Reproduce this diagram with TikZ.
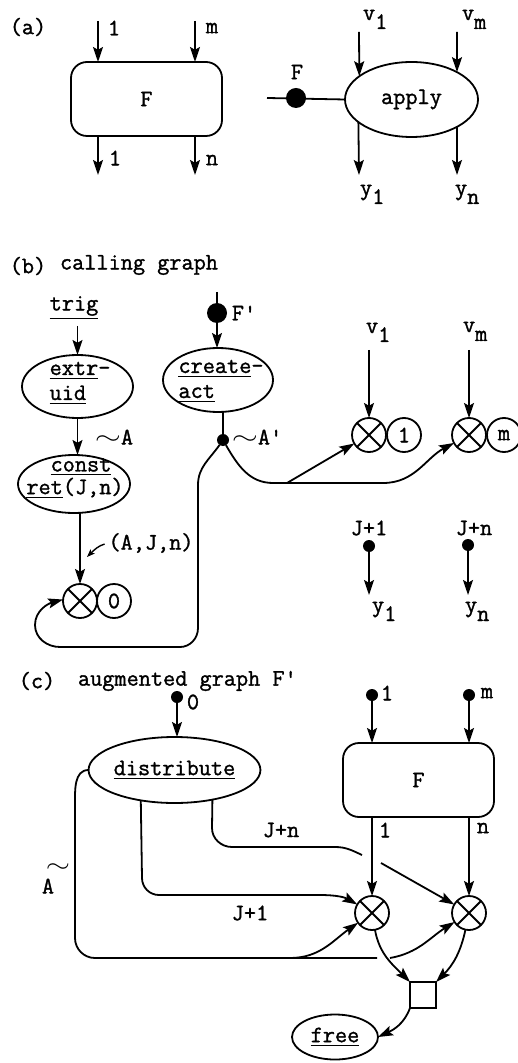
\documentclass[tikz,border=0pt]{standalone}
\usepackage{graphicx}
\usepackage{fontspec}
\setmainfont{Latin Modern Mono}[FakeBold=1.3]
\usetikzlibrary{arrows.meta,shapes.geometric}
\newcommand\lowsub[1]{\raisebox{-4.5pt}{#1}}
\newcommand\xcross[1]{\draw[ln] (#1.45) -- (#1.225) (#1.135) -- (#1.315);}
\tikzset{
  every node/.style={inner sep=0pt, outer sep=0pt, font=\fontsize{11.8}{12.5}\selectfont},
  ln/.style={line width=0.9pt},
  arr/.style={ln,-{Stealth[length=7.5pt,width=5pt,inset=1.4pt]}},
  arrs/.style={line width=0.7pt,-{Stealth[length=4pt,width=3pt,inset=1pt]}},
  ell/.style={ellipse, draw, line width=0.9pt},
  rbox/.style={rectangle, rounded corners=8pt, draw, line width=0.9pt},
  xc/.style={circle, draw, line width=0.9pt, minimum size=17pt},
  bigdot/.style={circle, fill, minimum size=10pt},
  smalldot/.style={circle, fill, minimum size=6pt},
}
\begin{document}
\begin{tikzpicture}[x=0.5pt,y=-0.5pt]
\useasboundingbox (0,0) rectangle (518,1063);
% ---------------- (a)
\node (la) at (28,27) {(a)};
\node[rbox, minimum width=75.5pt, minimum height=37pt] (Fa) at (146.5,99) {F};
\coordinate (ain1) at (98,21); \coordinate (ainm) at (195,21);
\coordinate (aout1) at (98,175); \coordinate (aoutn) at (195,175);
\draw[arr] (ain1) -- (ain1 |- Fa.north);
\draw[arr] (ainm) -- (ainm |- Fa.north);
\draw[arr] (aout1 |- Fa.south) -- (aout1);
\draw[arr] (aoutn |- Fa.south) -- (aoutn);
\node (la1) at (114,28) {1};
\node (lam) at (212,28) {m};
\node (la1o) at (115,158) {1};
\node (lano) at (212,160) {n};
\node[ell, minimum width=66.5pt, minimum height=37.5pt] (ap) at (411.5,99.5) {apply};
\node[bigdot] (dF) at (296,98) {};
\coordinate (Fl) at (267,98);
\draw[ln] (Fl) -- (ap.west);
\node (lF) at (297,72) {F};
\coordinate (v1s) at (359,32); \coordinate (vms) at (457,32);
\coordinate (y1e) at (359,175); \coordinate (yne) at (457,175);
\draw[arr] (v1s) -- (ap.156.3);
\draw[arr] (vms) -- (ap.31);
\draw[arr] (ap.203.7) -- (y1e);
\draw[arr] (ap.329) -- (yne);
\node[anchor=base west] (lv1) at (363,20) {v\lowsub{1}};
\node[anchor=base west] (lvm) at (462,20) {v\lowsub{m}};
\node[anchor=base west] (ly1) at (360,195) {y\lowsub{1}};
\node[anchor=base west] (lyn) at (455,195) {y\lowsub{n}};
% ---------------- (b)
\node (lb) at (28,266) {(b)};
\node[anchor=west] (lcg) at (60,265) {calling graph};
\node (trig) at (74,308) {\underline{trig}};
\node[ell, minimum width=55.5pt, minimum height=31.5pt] (eu) at (77.5,386.5) {};
\node[align=left] (eut) at (80,383) {\underline{extr}-\\\underline{uid}};
\draw[arr, shorten <=3pt] (eu.north |- trig.south) -- (eu.north);
\node (tA) at (114,437) {\scalebox{1.4}[1]{$\sim$}A};
\node[ell, minimum width=56pt, minimum height=29pt] (cr) at (74,484) {};
\node (crt1) at (81,467) {\underline{const}};
\node (crt2) at (75,488) {\underline{ret}(J,n)};
\draw[arr] (eu.south) -- (eu.south |- cr.north);
\node[xc] (x0) at (80,601) {}; \xcross{x0}
\node[xc] (c0) at (114,601) {0};
\draw[arr] (x0 |- cr.south) -- (x0.north);
\node (ajn) at (151,543) {(A,J,n)};
\coordinate (ajt) at (87,557);
\draw[arrs, shorten <=2pt] (ajn.west) to[out=195,in=45] (ajt);
\node[bigdot] (dFp) at (217,313) {};
\coordinate (Fps) at (217,292);
\node[ell, minimum width=55pt, minimum height=32pt] (ca) at (218,380) {};
\node[align=left] (cat) at (221,381) {\underline{create}-\\\underline{act}};
\draw[ln] (Fps) -- (dFp);
\draw[arr] (dFp) -- (dFp |- ca.north);
\node (lFp) at (244,313) {F\textquotesingle};
\node[smalldot] (dA) at (223,440) {};
\draw[ln] (dA |- ca.south) -- (dA);
\node (tA2) at (257,437) {\scalebox{1.4}[1]{$\sim$}A\textquotesingle};
\draw[arr] (dA) to[out=235,in=90] (198,485) -- (198,628) to[out=270,in=0] (180,647) -- (60,647) to[out=180,in=270] (35,625) to[out=90,in=195] (x0.175);
\node[xc] (x1) at (369,435) {}; \xcross{x1}
\node[xc] (c1) at (404,435) {1};
\node[xc] (xm) at (469,435) {}; \xcross{xm}
\node[xc] (cm) at (504,435) {m};
\draw[arr] (dA) to[out=300,in=180] (273,483) -- (383,483) to[out=0,in=208] (xm.208);
\coordinate (br1) at (287,483);
\draw[arr] (br1) -- (x1.210);
\coordinate (v1b) at (369,350); \coordinate (vmb) at (469,350);
\draw[arr] (v1b) -- (x1.north);
\draw[arr] (vmb) -- (xm.north);
\node[anchor=base west] (lv1b) at (366,333) {v\lowsub{1}};
\node[anchor=base west] (lvmb) at (463,332) {v\lowsub{m}};
\node (lj1) at (369,528) {J+1};
\node[smalldot] (dj1) at (369,546) {};
\coordinate (y1b) at (369,595);
\draw[arr] (dj1) -- (y1b);
\node[anchor=base west] (ly1b) at (372,612) {y\lowsub{1}};
\node (ljn) at (474,528) {J+n};
\node[smalldot] (djn) at (468,545) {};
\coordinate (ynb) at (468,595);
\draw[arr] (djn) -- (ynb);
\node[anchor=base west] (lynb) at (465,612) {y\lowsub{n}};
% ---------------- (c)
\node (lc) at (37,681) {(c)};
\node[anchor=west] (lag) at (78,681) {augmented graph F\textquotesingle};
\node[smalldot] (d0) at (177,697) {};
\node (l0) at (193,702) {0};
\node[ell, minimum width=75.5pt, minimum height=33pt] (dist) at (174.5,770) {\underline{distribute}};
\draw[arr] (d0) -- (d0 |- dist.north);
\node[rbox, minimum width=75.5pt, minimum height=37pt] (Fc) at (418.5,780) {F};
\node[smalldot] (d1c) at (372,695) {};
\node (l1c) at (387,693) {1};
\node[smalldot] (dmc) at (469,695) {};
\node (lmc) at (487,693) {m};
\draw[arr] (d1c) -- (d1c |- Fc.north);
\draw[arr] (dmc) -- (dmc |- Fc.north);
\node[xc] (xL) at (372,913) {}; \xcross{xL}
\node[xc] (xR) at (469,913) {}; \xcross{xR}
\draw[arr] (xL |- Fc.south) -- (xL.north);
\draw[arr] (xR |- Fc.south) -- (xR.north);
\node (l1o) at (385,830) {1};
\node (lno) at (483,828) {n};
% A~ loop
\draw[ln] (dist.west) to[out=180,in=90] (75,805) -- (75,938) to[out=270,in=180] (95,958) -- (377,958);
\coordinate (bA1) at (290,958);
\draw[arr] (bA1) to[out=0,in=215] (xL.215);
\coordinate (bA2) at (390,958);
\draw[arr] (bA2) to[out=10,in=212] (xR.212);
\node (lAt) at (48,886) {A};
\node (tAt) at (58,868) {\scalebox{1.3}[1]{$\sim$}};
% J+1
\draw[arr] (dist.222.5) -- (142,878) to[out=270,in=180] (159,895) -- (320,895) to[out=0,in=150] (xL.150);
\node (lj1c) at (250,913) {J+1};
% J+n
\draw[ln] (dist.322.7) -- (212,828) to[out=270,in=180] (232,847) -- (335,847) to[out=0,in=155] (362,855);
\coordinate (jn2) at (381,863);
\draw[arr] (jn2) -- (xR.150);
\node (ljnc) at (281,830) {J+n};
% outputs
\node[draw, line width=0.9pt, minimum size=13pt] (sq) at (423,995) {};
\draw[arr] (xL.280) to[out=280,in=135] (sq.north west);
\draw[arr] (xR.258) to[out=258,in=45] (sq.north east);
\node[ell, minimum width=43pt, minimum height=22.5pt] (free) at (335,1037) {\underline{free}};
\draw[arr] (sq.south west) to[out=250,in=25] (free.east);
\end{tikzpicture}
\end{document}
